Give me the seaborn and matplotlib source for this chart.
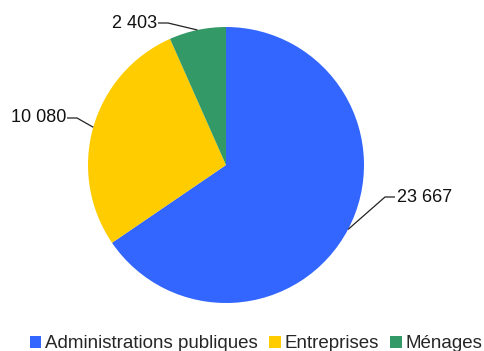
import numpy as np
import matplotlib
matplotlib.use("Agg")
import matplotlib.pyplot as plt
import seaborn as sns
from matplotlib.patches import Patch

# Data
categories = ["Administrations publiques", "Entreprises", "Ménages"]
values = [23667, 10080, 2403]
value_labels = ["23 667", "10 080", "2 403"]
colors = ["#3366ff", "#ffcc00", "#339966"]

sns.set_theme(style="white")
plt.rcParams["font.family"] = ["Liberation Sans", "DejaVu Sans"]

W, H, DPI = 485, 351, 100
fig = plt.figure(figsize=(W / DPI, H / DPI), dpi=DPI)
ax = fig.add_axes([0, 0, 1, 1])

# Pie geometry in pixels: centre and radius
cx, cy, R = 226, 165, 138

wedges, _ = ax.pie(values, colors=sns.color_palette(colors), startangle=90,
                   counterclock=False, radius=1.0, center=(0, 0),
                   wedgeprops=dict(linewidth=0))
ax.set_aspect("auto")
ax.set_xlim(-cx / R, (W - cx) / R)
ax.set_ylim((cy - H) / R, cy / R)
ax.axis("off")

# Leader lines and value labels: (elbow x, elbow y, text side)
label_layout = [
    ((385 - cx) / R, (cy - 197) / R, "left"),
    ((77 - cx) / R, (cy - 118) / R, "right"),
    ((168 - cx) / R, (cy - 23) / R, "right"),
]
seg = 10 / R
for w, txt, (ex, ey, side) in zip(wedges, value_labels, label_layout):
    mid = np.deg2rad((w.theta1 + w.theta2) / 2)
    px, py = np.cos(mid), np.sin(mid)
    hx = ex + seg if side == "left" else ex - seg
    ax.plot([px, ex, hx], [py, ey, ey], color="#222222", lw=0.9,
            solid_capstyle="butt")
    tx = hx + 2 / R if side == "left" else hx - 1 / R
    ax.text(tx, ey, txt, ha=side, va="center", fontsize=13,
            color="#111111")

handles = [Patch(facecolor=c, edgecolor="none") for c in colors]
fig.legend(handles, categories, loc="center left",
           bbox_to_anchor=(30 / W, 7 / H), ncol=3, frameon=False,
           fontsize=13.5, handlelength=0.6, handleheight=0.6,
           handletextpad=0.2, columnspacing=0.62, borderpad=0,
           borderaxespad=0)

fig.savefig("out.png", dpi=DPI)
